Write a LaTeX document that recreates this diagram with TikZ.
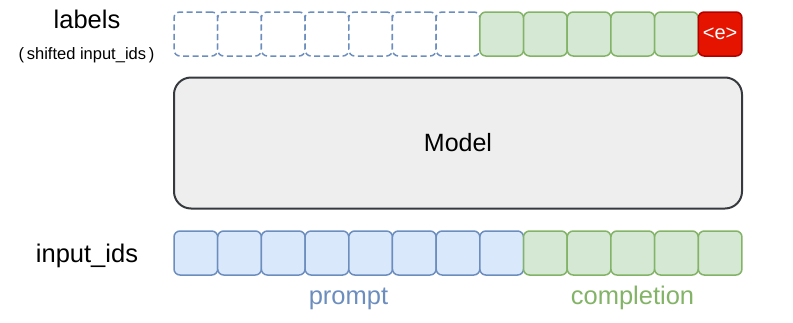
\documentclass[tikz,border=0pt]{standalone}
\usepackage{fontspec}
\setmainfont{Liberation Sans}
\definecolor{bstroke}{HTML}{6C8EBF}
\definecolor{bfill}{HTML}{DAE8FC}
\definecolor{gstroke}{HTML}{82B366}
\definecolor{gfill}{HTML}{D5E8D4}
\definecolor{rfill}{HTML}{E51400}
\definecolor{rstroke}{HTML}{B20000}
\definecolor{mfill}{HTML}{EEEEEE}
\definecolor{mstroke}{HTML}{36393D}
\newcommand{\cw}{43.69}
\tikzset{
  cell/.style={rectangle, rounded corners=6pt, minimum width=43.69pt, minimum height=44pt, inner sep=0pt, outer sep=0pt, line width=1.5pt},
  bluecell/.style={cell, draw=bstroke, fill=bfill},
  greencell/.style={cell, draw=gstroke, fill=gfill},
  dashcell/.style={cell, draw=bstroke, fill=white, dash pattern=on 6pt off 3.5pt},
  redcell/.style={cell, draw=rstroke, fill=rfill, text=white, font=\fontsize{20}{24}\selectfont},
  modelbox/.style={rectangle, rounded corners=17pt, draw=mstroke, fill=mfill, line width=2pt, minimum width=568pt, minimum height=131pt, inner sep=0pt, font=\fontsize{25}{30}\selectfont},
  biglabel/.style={anchor=base, inner sep=0pt, font=\fontsize{25.5}{30}\selectfont},
  smalllabel/.style={anchor=base, inner sep=0pt, font=\fontsize{16.5}{20}\selectfont},
}
\begin{document}
\begin{tikzpicture}[x=1pt,y=-1pt]
\useasboundingbox (0,0) rectangle (793,322);
% top row
\foreach \i in {1,...,7} {
  \node[dashcell] (t\i) at ({174+(\i-0.5)*\cw},34) {};
}
\foreach \i in {8,...,12} {
  \node[greencell] (t\i) at ({174+(\i-0.5)*\cw},34) {};
}
\node[redcell] (t13) at ({174+12.5*\cw},34) {<e>};
% model
\node[modelbox] (model) at (458,143) {Model};
% bottom row
\foreach \i in {1,...,8} {
  \node[bluecell] (b\i) at ({174+(\i-0.5)*\cw},253) {};
}
\foreach \i in {9,...,13} {
  \node[greencell] (b\i) at ({174+(\i-0.5)*\cw},253) {};
}
% labels
\node[biglabel] (lab) at (87,28) {labels};
\node[smalllabel] (slab) at (86.5,59) {(\,shifted input\_ids\,)};
\node[biglabel] (inp) at (87,262.5) {input\_ids};
\node[biglabel, text=bstroke] (prompt) at (348.5,304) {prompt};
\node[biglabel, text=gstroke] (compl) at (632.5,304) {completion};
\end{tikzpicture}
\end{document}
